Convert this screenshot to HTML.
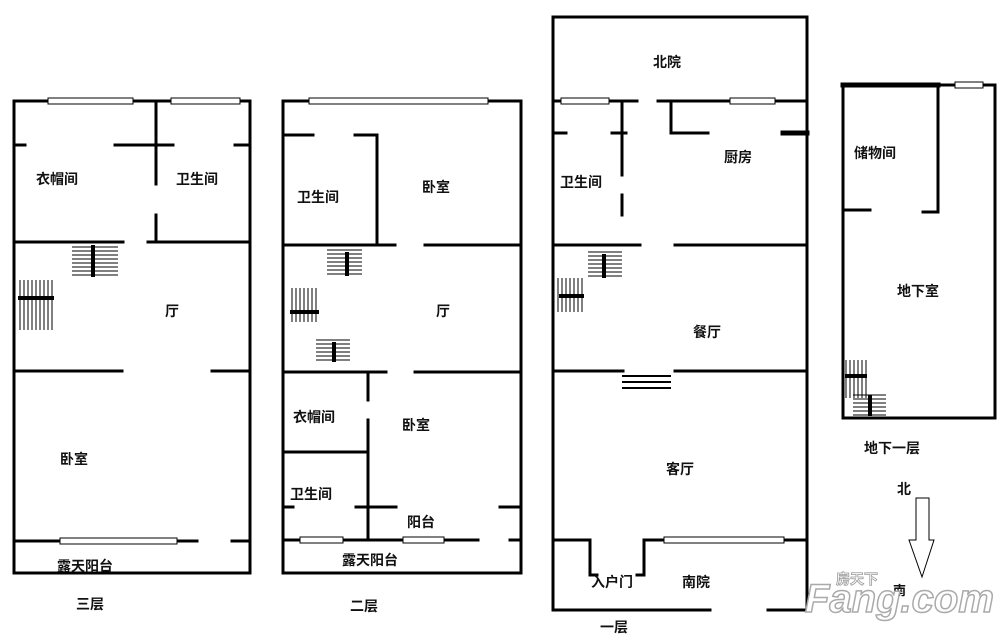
<!DOCTYPE html>
<html><head><meta charset="utf-8"><style>
html,body{margin:0;padding:0;background:#fff;width:1000px;height:637px;overflow:hidden}
svg text{font-family:"Liberation Sans","Noto Sans CJK SC",sans-serif;font-size:14px;fill:#111;font-weight:bold}
</style></head><body>
<svg width="1000" height="637" viewBox="0 0 1000 637" xmlns="http://www.w3.org/2000/svg">
<g stroke="#000" stroke-width="3" fill="none" stroke-linecap="square">
<!-- Floor 3 -->
<path d="M14,101 H48 M133,101 H171 M240,101 H250 V573 H14 V101"/>
<path d="M156,101 V184 M156,215 V242 M14,145 H25 M115,145 H173 M235,145 H250"/>
<path d="M14,242 H123 M148,242 H250 M14,371 H122 M212,371 H250"/>
<path d="M14,541 H60 M177,541 H197 M232,541 H250"/>
<!-- Floor 2 -->
<path d="M283,101 H309 M488,101 H521 V573 H283 V101"/>
<path d="M283,135 H313 M355,135 H377 V245 M283,245 H395 M425,245 H521"/>
<path d="M283,372 H386 M415,372 H521 M368,372 V400 M368,420 V540 M283,452 H368"/>
<path d="M283,507 H293 M356,507 H396 M500,507 H521 M283,540 H300 M343,540 H403 M444,540 H478 M510,540 H521"/>
<!-- Floor 1 -->
<path d="M553,17 H807 V610 H768 M710,610 H553 V17"/>
<path d="M553,101 H561 M609,101 H637 M658,101 H730 M775,101 H807"/>
<path d="M622,101 V175 M622,195 V215 M671,101 V133 H708 M553,133 H566 M612,133 H626"/>
<path d="M553,245 H640 M675,245 H807 M553,371 H623 M675,371 H807"/>
<path d="M555,540 H590 V575 H597 M637,575 H644 V540 H664 M784,540 H807"/>
<path d="M623,376 H670 M623,382 H670 M623,388 H670" stroke-width="2"/>
<path d="M783,133 H807" stroke-width="5"/>
<!-- Basement -->
<path d="M843,85 H955 M983,85 H995 V418 H843 V85" />
<path d="M843,85 H938" stroke-width="5"/>
<path d="M938,85 V212 H923 M843,210 H870"/>
</g>
<!-- windows -->
<g stroke="#000" stroke-width="1" fill="#fff">
<rect x="48" y="98" width="85" height="6"/><rect x="171" y="98" width="69" height="6"/>
<rect x="60" y="538" width="117" height="6"/>
<rect x="309" y="98" width="179" height="6"/>
<rect x="300" y="537" width="43" height="6"/><rect x="403" y="537" width="41" height="6"/>
<rect x="561" y="98" width="48" height="6"/><rect x="730" y="98" width="45" height="6"/>
<rect x="664" y="537" width="120" height="6"/>
<rect x="955" y="82" width="28" height="6"/>
</g>
<!-- stairs -->
<g stroke="#000" stroke-width="1">
<path d="M72,247H118M72,251H118M72,255H118M72,259H118M72,263H118M72,267H118M72,271H118M72,275H118"/>
<path d="M20,280V330M24,280V330M28,280V330M32,280V330M36,280V330M40,280V330M44,280V330M48,280V330M52,280V330"/>
<path d="M327,250H362M327,254H362M327,258H362M327,262H362M327,266H362M327,270H362M327,274H362"/>
<path d="M292,288V322M296,288V322M300,288V322M304,288V322M308,288V322M312,288V322M316,288V322"/>
<path d="M316,340H350M316,344H350M316,348H350M316,352H350M316,356H350M316,360H350"/>
<path d="M588,252H622M588,256H622M588,260H622M588,264H622M588,268H622M588,272H622M588,276H622"/>
<path d="M558,278V312M562,278V312M566,278V312M570,278V312M574,278V312M578,278V312M582,278V312"/>
<path d="M846,360V398M850,360V398M854,360V398M858,360V398M862,360V398M866,360V398"/>
<path d="M853,395H886M853,399H886M853,403H886M853,407H886M853,411H886M853,415H886"/>
</g>
<g stroke="#000" stroke-width="4">
<path d="M93,245V277M18,298H54M347,252V276M290,312H319M334,342V362M604,254V278M559,296H584M870,395V416M845,376H867"/>
</g>
<!-- labels -->
<text x="36" y="184">衣帽间</text><text x="176" y="184">卫生间</text>
<text x="165" y="316">厅</text><text x="60" y="464">卧室</text>
<text x="57" y="571">露天阳台</text><text x="76" y="609">三层</text>
<text x="297" y="202">卫生间</text><text x="422" y="192">卧室</text>
<text x="436" y="316">厅</text><text x="293" y="422">衣帽间</text>
<text x="402" y="430">卧室</text><text x="290" y="499">卫生间</text>
<text x="407" y="527">阳台</text><text x="342" y="565">露天阳台</text>
<text x="350" y="611">二层</text>
<text x="653" y="67">北院</text><text x="724" y="162">厨房</text>
<text x="560" y="187">卫生间</text><text x="693" y="337">餐厅</text>
<text x="666" y="474">客厅</text><text x="591" y="587">入户门</text>
<text x="682" y="587">南院</text><text x="600" y="632">一层</text>
<text x="854" y="158">储物间</text><text x="897" y="296">地下室</text>
<text x="864" y="453">地下一层</text><text x="897" y="494">北</text>
<text x="893" y="595" style="font-size:13px">南</text>
<!-- compass arrow -->
<path d="M916,498 H929 V540 H934 L922,577 L909,540 H916 Z" fill="#fff" stroke="#000" stroke-width="1"/>
<!-- watermark -->
<text x="805" y="612" style="font-size:40px;fill:#fff;stroke:#aaa;stroke-width:1.5;font-style:italic">Fang.com</text>
<text x="836" y="584" style="font-size:14px;fill:#fff;stroke:#999;stroke-width:0.8">房天下</text>
</svg>
</body></html>
